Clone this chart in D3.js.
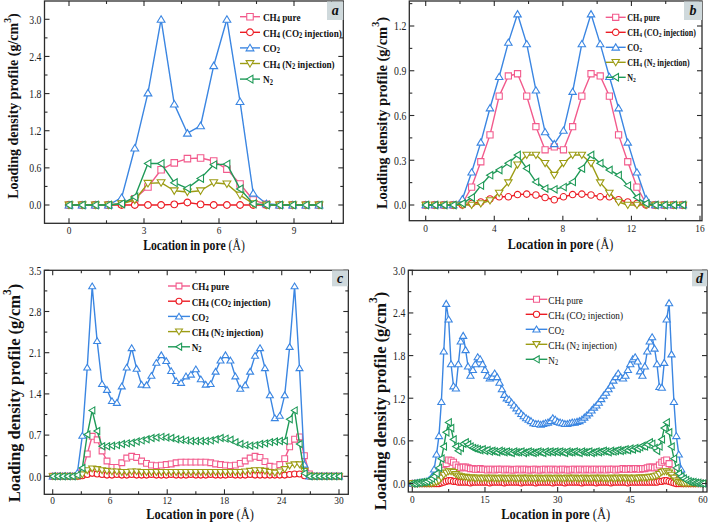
<!DOCTYPE html>
<html><head><meta charset="utf-8">
<script src="https://cdn.jsdelivr.net/npm/d3@7"></script>
<style>body{margin:0;background:#fff}svg{display:block}</style>
</head><body>
<svg id="chart" width="709" height="522"></svg>
<script>
// ---------- series meta ----------
const SERIES = ["CH4 pure","CH4 (CO2 injection)","CO2","CH4 (N2 injection)","N2"];
const COLORS = ["#f25a8c","#ec1c24","#3b86e2","#9c9c14","#1f9a58"];
const MARKERS = ["square","circle","up","down","left"];
const LEGEND_PARTS = [
  [["CH"],["4","sub"],[" pure"]],
  [["CH"],["4","sub"],[" (CO"],["2","sub"],[" injection)"]],
  [["CO"],["2","sub"]],
  [["CH"],["4","sub"],[" (N"],["2","sub"],[" injection)"]],
  [["N"],["2","sub"]]
];

// ---------- panel a ----------
const xA = [0,0.526,1.053,1.579,2.105,2.632,3.158,3.684,4.211,4.737,5.263,5.789,6.316,6.842,7.368,7.895,8.421,8.947,9.474,10];
const aCH4pure = [0,0,0,0,0.02,0.1,0.29,0.57,0.68,0.75,0.76,0.71,0.58,0.34,0.08,0.01,0,0,0,0];
const aCH4CO2  = [0,0,0,0,0,0,0,0,0.01,0.04,0.01,0,0,0,0,0,0,0,0,0];
const aCO2     = [0,0,0,0,0.12,0.92,1.81,3.0,1.63,1.16,1.28,2.25,3.0,1.67,0.19,0.02,0,0,0,0];
const aCH4N2   = [0,0,0,0,0.02,0.08,0.35,0.36,0.23,0.21,0.23,0.36,0.34,0.16,0.02,0,0,0,0,0];
const aN2      = [0,0,0,0,0.02,0.13,0.67,0.67,0.36,0.27,0.43,0.65,0.66,0.26,0.02,0,0,0,0,0];
const aTicksX = [0,3,6,9];
const aTicksY = [0,0.6,1.2,1.8,2.4,3.0];

// ---------- panel b ----------
const xB = [0,0.536,1.071,1.607,2.143,2.679,3.214,3.75,4.286,4.821,5.357,5.893,6.429,6.964,7.5,8.036,8.571,9.107,9.643,10.179,10.714,11.25,11.786,12.321,12.857,13.393,13.929,14.464,15];
const bCH4pure = [0,0,0,0,0.01,0.12,0.29,0.47,0.73,0.865,0.88,0.73,0.525,0.37,0.39,0.37,0.525,0.73,0.88,0.865,0.73,0.47,0.29,0.12,0.01,0,0,0,0];
const bCH4CO2  = [0,0,0,0,0,0.01,0.02,0.04,0.055,0.055,0.07,0.073,0.067,0.05,0.035,0.055,0.07,0.073,0.067,0.055,0.055,0.035,0.02,0.01,0,0,0,0,0];
const bCO2     = [0,0,0,0,0.04,0.22,0.42,0.65,0.86,1.09,1.28,1.08,0.77,0.49,0.41,0.5,0.76,1.08,1.28,1.08,0.86,0.65,0.42,0.22,0.04,0,0,0,0];
const bCH4N2   = [0,0,0,0,0,0,0.01,0.03,0.08,0.15,0.27,0.335,0.335,0.28,0.2,0.28,0.335,0.335,0.28,0.15,0.08,0.02,0,0,0,0,0,0,0];
const bN2      = [0,0,0,0,0.01,0.05,0.13,0.2,0.235,0.28,0.335,0.245,0.155,0.11,0.105,0.12,0.155,0.245,0.335,0.28,0.235,0.2,0.13,0.05,0.01,0,0,0,0];
const bTicksX = [0,4,8,12,16];
const bTicksY = [0,0.3,0.6,0.9,1.2];

// ---------- panel c (uniform sampling grid, 59 bins over 30 Å) ----------
const xC = d3.range(59).map(i => i * 30 / 58);
const cCH4pure = [0,0,0,0,0, 0,0.08,0.38,0.68,0.62, 0.43,0.26,0.15,0.15,0.23, 0.31,0.34,0.32,0.26,0.22, 0.19,0.18,0.19,0.2,0.21, 0.23,0.24,0.24,0.24,0.24, 0.24,0.24,0.23,0.21,0.2, 0.19,0.18,0.19,0.22,0.26, 0.31,0.34,0.32,0.25,0.17, 0.16,0.2,0.3,0.5,0.63, 0.67,0.35,0.04,0,0, 0,0,0,0];
const cCH4CO2  = [0,0,0,0,0, 0,0.01,0.03,0.05,0.04, 0.03,0.02,0.02,0.03,0.02, 0.02,0.03,0.02,0.02,0.02, 0.03,0.02,0.02,0.02,0.03, 0.02,0.02,0.02,0.03,0.02, 0.02,0.02,0.03,0.02,0.02, 0.02,0.03,0.02,0.02,0.02, 0.03,0.02,0.02,0.02,0.02, 0.02,0.02,0.02,0.03,0.04, 0.04,0.01,0,0,0, 0,0,0,0];
const cCO2     = [0,0,0,0,0, 0.06,0.69,1.85,3.23,2.3, 1.57,1.47,1.28,1.25,1.53, 1.85,2.18,1.83,1.56,1.55, 1.71,1.93,2.06,1.96,1.79, 1.62,1.59,1.7,1.73,1.82, 1.65,1.56,1.57,1.78,1.97, 2.06,1.97,1.7,1.49,1.55, 1.78,2.05,2.18,1.84,1.38, 0.99,1.03,1.38,2.2,3.23, 1.84,0.2,0,0,0, 0,0,0,0];
const cCH4N2   = [0,0,0,0,0, 0,0.03,0.1,0.13,0.12, 0.1,0.09,0.08,0.08,0.07, 0.07,0.08,0.08,0.07,0.07, 0.07,0.07,0.07,0.07,0.07, 0.07,0.07,0.07,0.07,0.07, 0.07,0.07,0.07,0.07,0.07, 0.07,0.07,0.07,0.07,0.08, 0.09,0.1,0.1,0.09,0.07, 0.06,0.08,0.12,0.18,0.2, 0.2,0.09,0.01,0,0, 0,0,0,0];
const cN2      = [0,0,0,0,0, 0.02,0.14,0.71,1.12,0.77, 0.51,0.51,0.52,0.53,0.55, 0.56,0.57,0.59,0.61,0.63, 0.65,0.66,0.67,0.66,0.65, 0.63,0.62,0.61,0.6,0.6, 0.6,0.6,0.61,0.63,0.65, 0.64,0.62,0.58,0.55,0.53, 0.52,0.53,0.55,0.56,0.58, 0.59,0.6,0.6,0.97,1.12, 0.55,0.05,0,0,0, 0,0,0,0];
const cTicksX = [0,6,12,18,24,30];
const cTicksY = [0,0.7,1.4,2.1,2.8,3.5];

// ---------- panel d (uniform sampling grid, 0.5 Å bins over 60 Å) ----------
const xD = d3.range(121).map(i => i * 0.5);
const dCH4pure = [
 0,0,0,0,0,0,0,0,0.01,0.01,
 0.02,0.04,0.09,0.18,0.28,0.33,0.32,0.3,0.26,0.23,
 0.22,0.23,0.23,0.22,0.21,0.21,0.2,0.2,0.21,0.2,
 0.2,0.19,0.2,0.2,0.19,0.2,0.2,0.2,0.19,0.2,
 0.2,0.19,0.19,0.2,0.2,0.19,0.2,0.2,0.19,0.19,
 0.2,0.2,0.19,0.19,0.2,0.2,0.19,0.2,0.2,0.19,
 0.2,0.19,0.2,0.2,0.19,0.19,0.2,0.2,0.19,0.2,
 0.2,0.19,0.2,0.2,0.19,0.2,0.2,0.19,0.2,0.2,
 0.19,0.2,0.2,0.2,0.19,0.2,0.2,0.21,0.2,0.2,
 0.21,0.2,0.21,0.21,0.2,0.21,0.21,0.22,0.23,0.23,
 0.22,0.23,0.26,0.3,0.32,0.33,0.28,0.18,0.09,0.04,
 0.02,0.01,0.01,0,0,0,0,0,0,0,
 0];
const dCH4CO2 = [
 0,0,0,0,0,0,0,0,0,0,
 0,0,0.01,0.02,0.03,0.04,0.04,0.03,0.03,0.02,
 0.02,0.02,0.02,0.02,0.01,0.02,0.02,0.02,0.02,0.02,
 0.02,0.02,0.01,0.02,0.02,0.02,0.02,0.02,0.01,0.02,
 0.02,0.02,0.02,0.02,0.02,0.01,0.02,0.02,0.02,0.02,
 0.02,0.01,0.02,0.02,0.02,0.02,0.02,0.02,0.01,0.02,
 0.02,0.02,0.02,0.01,0.02,0.02,0.02,0.02,0.02,0.02,
 0.01,0.02,0.02,0.02,0.02,0.02,0.01,0.02,0.02,0.02,
 0.02,0.02,0.01,0.02,0.02,0.02,0.02,0.02,0.02,0.01,
 0.02,0.02,0.02,0.02,0.02,0.02,0.02,0.02,0.02,0.02,
 0.02,0.02,0.03,0.03,0.04,0.04,0.03,0.02,0.01,0,
 0,0,0,0,0,0,0,0,0,0,
 0];
const dCO2 = [
 0,0,0.01,0.01,0.02,0.02,0.03,0.05,0.09,0.2,
 0.41,0.67,1.15,1.86,2.53,2.31,1.68,1.37,1.34,1.68,
 2.0,2.08,1.88,1.65,1.52,1.6,1.68,1.78,1.75,1.68,
 1.6,1.52,1.48,1.5,1.55,1.5,1.42,1.33,1.25,1.2,
 1.18,1.14,1.1,1.06,1.02,0.98,0.95,0.92,0.9,0.88,
 0.85,0.84,0.84,0.83,0.84,0.85,0.86,0.88,0.92,0.9,
 0.87,0.86,0.85,0.84,0.84,0.85,0.86,0.86,0.87,0.88,
 0.9,0.93,0.96,0.99,1.03,1.07,1.1,1.14,1.19,1.24,
 1.28,1.33,1.38,1.45,1.5,1.55,1.5,1.48,1.52,1.6,
 1.68,1.75,1.78,1.72,1.58,1.52,1.65,1.86,2.0,2.06,
 1.9,1.68,1.36,1.35,1.7,2.31,2.54,1.82,1.15,0.67,
 0.41,0.2,0.09,0.05,0.03,0.02,0.02,0.01,0.01,0,
 0];
const dCH4N2 = [
 0,0,0,0,0,0,0,0,0,0.01,
 0.02,0.04,0.08,0.12,0.15,0.17,0.17,0.16,0.13,0.11,
 0.1,0.09,0.09,0.08,0.08,0.08,0.07,0.08,0.07,0.07,
 0.08,0.07,0.07,0.08,0.07,0.07,0.07,0.08,0.07,0.07,
 0.07,0.08,0.07,0.07,0.07,0.08,0.07,0.07,0.08,0.07,
 0.07,0.07,0.08,0.07,0.07,0.07,0.08,0.07,0.07,0.07,
 0.08,0.07,0.07,0.07,0.08,0.07,0.07,0.08,0.07,0.07,
 0.07,0.08,0.07,0.07,0.07,0.08,0.07,0.07,0.08,0.07,
 0.07,0.07,0.08,0.07,0.07,0.08,0.07,0.08,0.07,0.08,
 0.07,0.07,0.08,0.07,0.08,0.08,0.08,0.08,0.09,0.09,
 0.1,0.11,0.13,0.16,0.17,0.17,0.15,0.12,0.08,0.04,
 0.02,0.01,0,0,0,0,0,0,0,0,
 0];
const dN2 = [
 0,0,0.01,0.01,0.02,0.02,0.03,0.05,0.07,0.1,
 0.14,0.22,0.35,0.52,0.72,0.86,0.78,0.62,0.52,0.46,
 0.5,0.56,0.58,0.55,0.52,0.5,0.49,0.48,0.47,0.48,
 0.46,0.47,0.45,0.46,0.45,0.44,0.46,0.45,0.44,0.45,
 0.44,0.43,0.45,0.44,0.44,0.45,0.43,0.44,0.45,0.44,
 0.43,0.44,0.45,0.44,0.43,0.45,0.44,0.45,0.44,0.45,
 0.44,0.45,0.44,0.43,0.45,0.44,0.44,0.45,0.44,0.43,
 0.45,0.44,0.44,0.45,0.43,0.44,0.45,0.44,0.45,0.46,
 0.45,0.44,0.46,0.45,0.46,0.47,0.46,0.47,0.48,0.47,
 0.49,0.48,0.5,0.49,0.51,0.53,0.52,0.55,0.58,0.56,
 0.5,0.46,0.52,0.62,0.78,0.86,0.72,0.52,0.35,0.22,
 0.14,0.1,0.07,0.05,0.03,0.02,0.02,0.01,0.01,0,
 0];
const dTicksX = [0,15,30,45,60];
const dTicksY = [0,0.6,1.2,1.8,2.4,3.0];

// ---------- layout (pixels) ----------
const panels = [
 {id:"a", x:xA, ys:[aCH4pure,aCH4CO2,aCO2,aCH4N2,aN2], frame:{l:44.5,r:343.3,t:1,b:223.3},
  xRef:[0,9,69,294], yRef:[0,3,205,19.3], xMajor:aTicksX, xMinor:1.5, yMajor:aTicksY, yMinor:0.3,
  ms:6.5, legend:{x1:240,x2:260,tx:263,y0:16.7,dy:15.6,fs:10.8,w:"bold"}, xTickDy:11,
  box:{x:327,y:1.5,w:16.3,h:18.5}, xTitle:{cx:194,y:249.5,fs:13.8}, yTitle:{cx:12.5,cy:106,fs:14}},
 {id:"b", x:xB, ys:[bCH4pure,bCH4CO2,bCO2,bCH4N2,bN2], frame:{l:409.3,r:702,t:1,b:220.7},
  xRef:[0,16,425.7,700], yRef:[0,1.2,205,26], xMajor:bTicksX, xMinor:2, yMajor:bTicksY, yMinor:0.15,
  ms:6.2, legend:{x1:605.7,x2:625.7,tx:627.3,y0:17.3,dy:15,fs:9.4,w:"bold"}, xTickDy:11,
  box:{x:684,y:1.5,w:18,h:18.5}, xTitle:{cx:560.5,y:248.5,fs:14.3}, yTitle:{cx:381.5,cy:113,fs:14.5}},
 {id:"c", x:xC, ys:[cCH4pure,cCH4CO2,cCO2,cCH4N2,cN2], frame:{l:44.3,r:348.3,t:270.3,b:494.3},
  xRef:[0,30,52.7,339], yRef:[0,3.5,476.3,270.3], xMajor:cTicksX, xMinor:3, yMajor:cTicksY, yMinor:0.35,
  ms:5.8, legend:{x1:168,x2:190,tx:191.7,y0:286,dy:15.2,fs:10.8,w:"bold"}, xTickDy:10,
  box:{x:332,y:270.3,w:16,h:16}, xTitle:{cx:200,y:518.6,fs:14.6}, yTitle:{cx:14,cy:393,fs:16.5}},
 {id:"d", x:xD, ys:[dCH4pure,dCH4CO2,dCO2,dCH4N2,dN2], frame:{l:408.3,r:707,t:270.3,b:492},
  xRef:[0,60,412.3,703], yRef:[0,3,483.5,270.3], xMajor:dTicksX, xMinor:7.5, yMajor:dTicksY, yMinor:0.3,
  ms:6.0, legend:{x1:525.7,x2:547.3,tx:548.3,y0:299.3,dy:15,fs:10.8,w:"normal"}, xTickDy:11,
  box:{x:692,y:270.3,w:15,h:16}, xTitle:{cx:555.7,y:518.8,fs:14.8}, yTitle:{cx:380,cy:401,fs:16.5}}
];

const FONT = "'Liberation Serif','Times New Roman',serif";
const SX = 0.85;
const AXIS = "#2b2b2b";
const svg = d3.select("#chart");

function addRich(text, parts, fs) {
  let shift = 0;
  parts.forEach(([s, kind, weight]) => {
    const target = kind === "sub" ? fs * 0.3 : kind === "sup" ? -fs * 0.42 : 0;
    const t = text.append("tspan").text(s).attr("dy", target - shift);
    if (kind === "sub" || kind === "sup") t.attr("font-size", fs * 0.7);
    if (weight) t.attr("font-weight", weight);
    shift = target;
  });
}

function markerPath(type, s) {
  const h = s / 2, w = s * 0.6;
  switch (type) {
    case "square": return `M${-h},${-h}H${h}V${h}H${-h}Z`;
    case "circle": { const r = s * 0.52; return `M${r},0A${r},${r} 0 1,1 ${-r},0A${r},${r} 0 1,1 ${r},0Z`; }
    case "up":   return `M0,${-h*1.1}L${w},${h*0.9}L${-w},${h*0.9}Z`;
    case "down": return `M0,${h*1.1}L${w},${-h*0.9}L${-w},${-h*0.9}Z`;
    case "left": return `M${-h*1.1},0L${h*0.9},${-w}L${h*0.9},${w}Z`;
  }
}

function minorTicks(dom, step, majors) {
  const out = [];
  const k0 = Math.ceil(dom[0] / step - 1e-9), k1 = Math.floor(dom[1] / step + 1e-9);
  for (let k = k0; k <= k1; k++) {
    const v = k * step;
    if (!majors.some(m => Math.abs(m - v) < 1e-6)) out.push(v);
  }
  return out;
}

function drawPanel(p) {
  const g = svg.append("g");
  const f = p.frame;
  const x = d3.scaleLinear().domain([p.xRef[0], p.xRef[1]]).range([p.xRef[2], p.xRef[3]]);
  const y = d3.scaleLinear().domain([p.yRef[0], p.yRef[1]]).range([p.yRef[2], p.yRef[3]]);

  const cid = "clip" + p.id;
  svg.append("clipPath").attr("id", cid).append("rect")
    .attr("x", f.l).attr("y", f.t).attr("width", f.r - f.l).attr("height", f.b - f.t);
  const dg = g.append("g").attr("clip-path", `url(#${cid})`);

  p.ys.forEach((ys, si) => {
    const pts = p.x.map((xv, i) => [xv, ys[i]]);
    dg.append("path")
      .attr("d", d3.line().x(d => x(d[0])).y(d => y(d[1]))(pts))
      .attr("fill", "none").attr("stroke", COLORS[si]).attr("stroke-width", 1.4)
      .attr("stroke-linejoin", "round");
    dg.append("g").selectAll("path").data(pts).join("path")
      .attr("transform", d => `translate(${x(d[0])},${y(d[1])})`)
      .attr("d", markerPath(MARKERS[si], p.ms))
      .attr("fill", "#fff").attr("stroke", COLORS[si]).attr("stroke-width", 1.1);
  });

  // frame
  g.append("rect").attr("x", f.l).attr("y", f.t).attr("width", f.r - f.l).attr("height", f.b - f.t)
    .attr("fill", "none").attr("stroke", AXIS).attr("stroke-width", 1.3);

  const xDom = [x.invert(f.l), x.invert(f.r)];
  const yDom = [y.invert(f.b), y.invert(f.t)];
  const xMaj = p.xMajor.filter(v => v >= xDom[0] - 1e-6 && v <= xDom[1] + 1e-6);
  const yMaj = p.yMajor.filter(v => v >= yDom[0] - 1e-6 && v <= yDom[1] + 1e-6);
  const xMin = minorTicks(xDom, p.xMinor, p.xMajor);
  const yMin = minorTicks(yDom, p.yMinor, p.yMajor);
  const tg = g.append("g").attr("stroke", AXIS).attr("stroke-width", 1.1);
  const tick = (list, len, isX) => list.forEach(v => {
    if (isX) {
      const px = x(v);
      tg.append("line").attr("x1", px).attr("x2", px).attr("y1", f.b).attr("y2", f.b - len);
      tg.append("line").attr("x1", px).attr("x2", px).attr("y1", f.t).attr("y2", f.t + len);
    } else {
      const py = y(v);
      tg.append("line").attr("y1", py).attr("y2", py).attr("x1", f.l).attr("x2", f.l + len);
      tg.append("line").attr("y1", py).attr("y2", py).attr("x1", f.r).attr("x2", f.r - len);
    }
  });
  tick(xMaj, 5, true); tick(xMin, 3, true); tick(yMaj, 5, false); tick(yMin, 3, false);

  // tick labels
  xMaj.forEach(v => {
    g.append("g").attr("transform", `translate(${x(v)},${f.b + p.xTickDy}) scale(${SX},1)`)
      .append("text").attr("text-anchor", "middle").attr("font-family", FONT)
      .attr("font-size", 11).attr("fill", "#222").text(d3.format("d")(v));
  });
  yMaj.forEach(v => {
    g.append("g").attr("transform", `translate(${f.l - 3},${y(v)}) scale(${SX},1)`)
      .append("text").attr("text-anchor", "end").attr("dominant-baseline", "central")
      .attr("font-family", FONT).attr("font-size", 11.5).attr("fill", "#222").text(d3.format(".1f")(v));
  });

  // axis titles
  const xt = g.append("g").attr("transform", `translate(${p.xTitle.cx},${p.xTitle.y}) scale(${SX},1)`)
    .append("text").attr("text-anchor", "middle").attr("font-family", FONT)
    .attr("font-size", p.xTitle.fs).attr("font-weight", "bold").attr("fill", "#111");
  addRich(xt, [["Location in pore "], ["(Å)", null, "normal"]], p.xTitle.fs);
  const yt = g.append("g").attr("transform", `translate(${p.yTitle.cx},${p.yTitle.cy}) rotate(-90)`)
    .append("text").attr("text-anchor", "middle").attr("dominant-baseline", "central")
    .attr("font-family", FONT).attr("font-size", p.yTitle.fs).attr("font-weight", "bold").attr("fill", "#111");
  addRich(yt, [["Loading density profile (g/cm"], ["3", "sup"], [")"]], p.yTitle.fs);

  // legend
  const L = p.legend;
  SERIES.forEach((name, si) => {
    const yy = L.y0 + si * L.dy;
    g.append("line").attr("x1", L.x1).attr("x2", L.x2).attr("y1", yy).attr("y2", yy)
      .attr("stroke", COLORS[si]).attr("stroke-width", 1.4);
    g.append("path").attr("transform", `translate(${(L.x1 + L.x2) / 2},${yy})`)
      .attr("d", markerPath(MARKERS[si], p.ms)).attr("fill", "#fff")
      .attr("stroke", COLORS[si]).attr("stroke-width", 1.1);
    const t = g.append("g").attr("transform", `translate(${L.tx},${yy}) scale(${SX},1)`)
      .append("text").attr("dominant-baseline", "central").attr("font-family", FONT)
      .attr("font-size", L.fs).attr("font-weight", L.w).attr("fill", "#111");
    addRich(t, LEGEND_PARTS[si], L.fs);
  });

  // panel letter box
  const B = p.box;
  g.append("rect").attr("x", B.x).attr("y", B.y).attr("width", B.w).attr("height", B.h).attr("fill", "#cfd9dc");
  g.append("text").attr("x", B.x + B.w / 2).attr("y", B.y + B.h / 2).attr("text-anchor", "middle")
    .attr("dominant-baseline", "central").attr("font-family", FONT).attr("font-size", 14)
    .attr("font-weight", "bold").attr("font-style", "italic").attr("fill", "#111").text(p.id);
}

panels.forEach(drawPanel);
</script>
</body></html>
